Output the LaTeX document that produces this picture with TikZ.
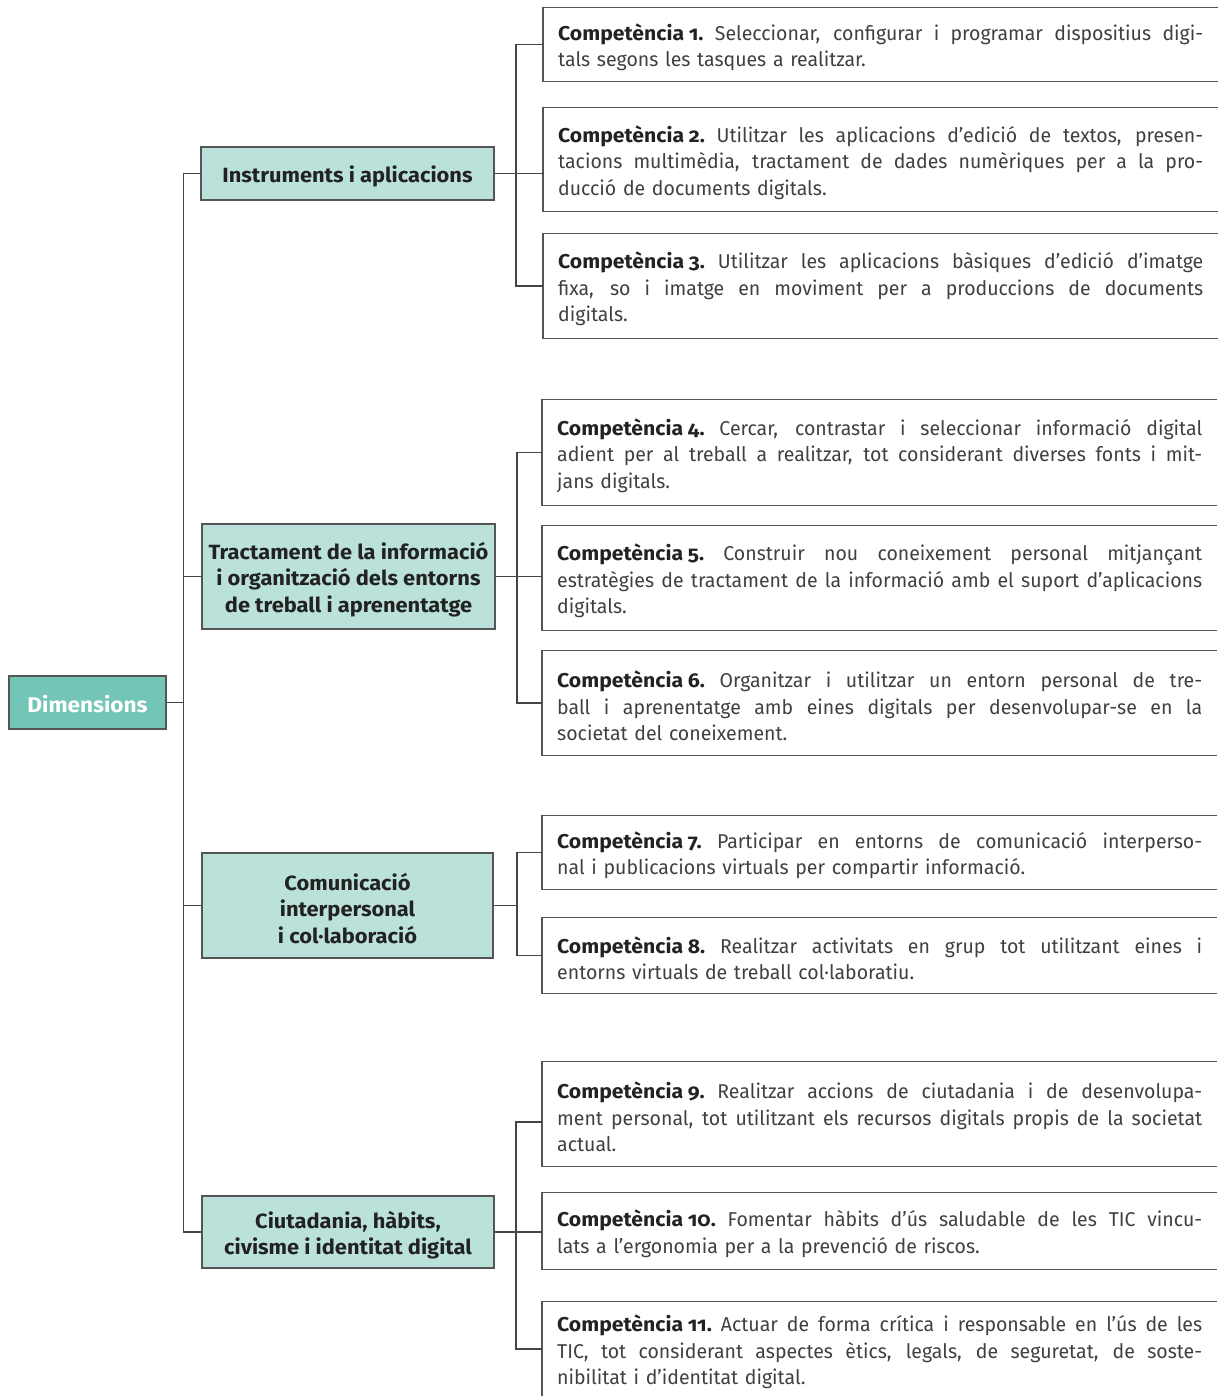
\documentclass[tikz,border=0pt]{standalone}
\usepackage{fontspec}
\setmainfont{Fira Sans}[Numbers=OldStyle, FakeStretch=0.975]
\newfontfamily\wbold{Fira Sans}[Numbers=OldStyle, FakeStretch=1.06]
\setlength\parindent{0pt}
\definecolor{linec}{HTML}{444444}
\definecolor{boxc}{HTML}{555555}
\definecolor{dimfill}{HTML}{73C6B7}
\definecolor{catfill}{HTML}{BBE2DA}
\definecolor{textc}{HTML}{404040}
\definecolor{textb}{HTML}{222222}
\newcommand\jl[1]{{\spaceskip=\fontdimen2\font plus 1fil\xspaceskip=\spaceskip\makebox[645pt][s]{#1}}\\}
\newcommand\cmp[1]{{\wbold\bfseries\color{textb}Competència\kern0.24em#1}}
% \compbox{name}{left x}{centre y}{height}{text}
\newcommand\compbox[5]{%
  \node[compframe, minimum height=#4pt] (#1) at (#2,#3) {};
  \node[comptext] (t#1) at ([yshift=-3pt]#1.west) {#5};}
\begin{document}
\begin{tikzpicture}[x=1pt,y=-1pt,
 conn/.style={draw=linec, line width=1.1pt},
 framec/.style={draw=boxc, line width=1.2pt},
 dimbox/.style={draw=boxc, fill=dimfill, line width=1.2pt, minimum width=157pt, minimum height=53pt, inner sep=0pt},
 dimtext/.style={inner sep=0pt, font=\wbold\bfseries\fontsize{21.3}{26.5}\selectfont, text=white},
 catbox/.style={draw=boxc, fill=catfill, line width=1.2pt, minimum width=293pt, inner sep=0pt},
 cattext/.style={inner sep=0pt, align=center, font=\wbold\bfseries\fontsize{20.6}{26.5}\selectfont, text=textb},
 compframe/.style={anchor=west, minimum width=675pt, inner sep=0pt},
 comptext/.style={anchor=west, text width=645pt, inner xsep=15pt, inner ysep=0pt, align=left, font=\fontsize{20}{26.5}\selectfont, text=textc}
]
\useasboundingbox (0,0) rectangle (1218,1396);

% root
\node[dimbox] (dim) at (87.5,702.5) {};
\node[dimtext] (tdim) at ([yshift=-2pt]dim.center) {Dimensions};

% categories
\node[catbox, minimum height=53pt] (cat1) at (347.5,173.5) {};
\node[catbox, minimum height=105pt] (cat2) at (348.5,576.5) {};
\node[catbox, minimum height=105pt, minimum width=291pt] (cat3) at (347.5,905.5) {};
\node[catbox, minimum height=72pt, minimum width=292pt] (cat4) at (348,1232) {};
\node[cattext] (tcat1) at ([yshift=-3pt]cat1.center) {Instruments i aplicacions};
\node[cattext] (tcat2) at ([yshift=-3pt]cat2.center) {Tractament de la informació\\i organització dels entorns\\de treball i aprenentatge};
\node[cattext] (tcat3) at ([yshift=-3pt]cat3.center) {Comunicació\\interpersonal\\i col·laboració};
\node[cattext] (tcat4) at ([yshift=-3pt]cat4.center) {Ciutadania, hàbits,\\civisme i identitat digital};

% competencies
\compbox{c1}{543}{44.5}{73}{\jl{\cmp{1.} Seleccionar, configurar i programar dispositius digi-}tals segons les tasques a realitzar.}
\compbox{c2}{543}{159.5}{103}{\jl{\cmp{2.} Utilitzar les aplicacions d’edició de textos, presen-}\jl{tacions multimèdia, tractament de dades numèriques per a la pro-}ducció de documents digitals.}
\compbox{c3}{543}{286}{104}{\jl{\cmp{3.} Utilitzar les aplicacions bàsiques d’edició d’imatge}\jl{fixa, so i imatge en moviment per a produccions de documents}digitals.}

\compbox{c4}{542}{452.5}{105}{\jl{\cmp{4.} Cercar, contrastar i seleccionar informació digital}\jl{adient per al treball a realitzar, tot considerant diverses fonts i mit-}jans digitals.}
\compbox{c5}{542}{578}{104}{\jl{\cmp{5.} Construir nou coneixement personal mitjançant}\jl{estratègies de tractament de la informació amb el suport d’aplicacions}digitals.}
\compbox{c6}{542}{703}{104}{\jl{\cmp{6.} Organitzar i utilitzar un entorn personal de tre-}\jl{ball i aprenentatge amb eines digitals per desenvolupar-se en la}societat del coneixement.}

\compbox{c7}{542}{852.5}{73}{\jl{\cmp{7.} Participar en entorns de comunicació interperso-}nal i publicacions virtuals per compartir informació.}
\compbox{c8}{542}{955.5}{75}{\jl{\cmp{8.} Realitzar activitats en grup tot utilitzant eines i}entorns virtuals de treball col·laboratiu.}

\compbox{c9}{542}{1114}{104}{\jl{\cmp{9.} Realitzar accions de ciutadania i de desenvolupa-}\jl{ment personal, tot utilitzant els recursos digitals propis de la societat}actual.}
\compbox{c10}{542}{1231}{76}{\jl{\cmp{10.} Fomentar hàbits d’ús saludable de les TIC vincu-}lats a l’ergonomia per a la prevenció de riscos.}
\compbox{c11}{542}{1349}{94}{\jl{\cmp{11.} Actuar de forma crítica i responsable en l’ús de les}\jl{TIC, tot considerant aspectes ètics, legals, de seguretat, de soste-}nibilitat i d’identitat digital.}

% open frames of competency boxes
\foreach \c in {c1,c2,c3,c4,c5,c6,c7,c8,c9,c10}
  \draw[framec] (\c.north east) -- (\c.north west) -- (\c.south west) -- (\c.south east);
\draw[framec] (c11.north east) -- (c11.north west) -- (c11.south west);

% trunk
\path (cat1.west) ++(-17,0) coordinate (tr);
\draw[conn] (cat1.west) -- (tr) |- (cat4.west);
\draw[conn] (cat2.west) -- (cat2.west -| tr);
\draw[conn] (cat3.west) -- (cat3.west -| tr);
\draw[conn] (dim.east) -- (dim.east -| tr);

% group 1
\draw[conn] (c1.west) -- ++(-27,0) |- (c3.west);
\draw[conn] (cat1.east) -- (cat1.east -| c2.west);
% group 2
\draw[conn] (c4.west) -- ++(-25,0) |- (c6.west);
\draw[conn] (cat2.east) -- (cat2.east -| c5.west);
% group 3
\path (c7.west) ++(-25,0) coordinate (v3);
\draw[conn] (c7.west) -- (v3) |- (c8.west);
\draw[conn] (cat3.east) -- (cat3.east -| v3);
% group 4
\draw[conn] ([yshift=-8pt]c9.west) -- ++(-26,0) |- (c11.west);
\draw[conn] (cat4.east) -- (cat4.east -| c10.west);
\end{tikzpicture}
\end{document}
